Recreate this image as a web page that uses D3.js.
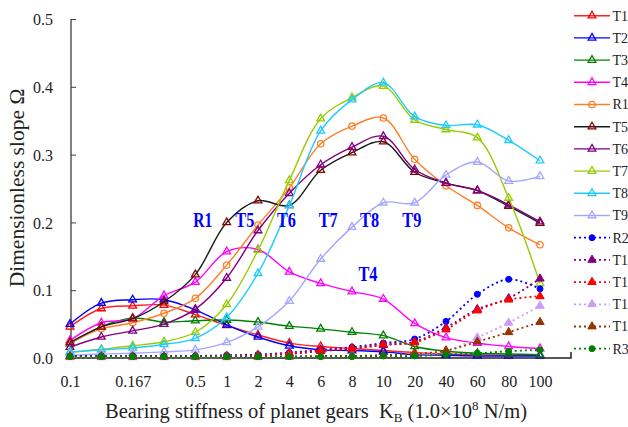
<!DOCTYPE html>
<html>
<head>
<meta charset="utf-8">
<script src="https://cdn.jsdelivr.net/npm/d3@7"></script>
<style>
  html, body { margin: 0; padding: 0; background: #fff; }
  svg { display: block; }
  text { font-family: "Liberation Serif", "Times New Roman", serif; }
</style>
</head>
<body>
<svg id="chart" width="628" height="427"></svg>
<script>
// Bearing stiffness categories (1.0e8 N/m) and the labels shown under them
const categories = ["0.1", "0.125", "0.167", "0.25", "0.5", "1", "2", "4", "6", "8", "10", "20", "40", "60", "80", "100"];
const tickLabels = ["0.1", "", "0.167", "", "0.5", "1", "2", "4", "6", "8", "10", "20", "40", "60", "80", "100"];
const yTicks = [0.0, 0.1, 0.2, 0.3, 0.4, 0.5];

// Dimensionless slope for each mode
const T1  = [0.046, 0.073, 0.077, 0.078, 0.064, 0.048, 0.034, 0.022, 0.017, 0.014, 0.011, 0.008, 0.006, 0.005, 0.004, 0.004];
const T2  = [0.050, 0.081, 0.086, 0.086, 0.071, 0.049, 0.031, 0.018, 0.012, 0.011, 0.009, 0.005, 0.004, 0.003, 0.003, 0.003];
const T3  = [0.021, 0.046, 0.059, 0.053, 0.055, 0.056, 0.053, 0.047, 0.043, 0.038, 0.033, 0.017, 0.010, 0.007, 0.006, 0.005];
const T4  = [0.026, 0.052, 0.058, 0.092, 0.112, 0.157, 0.160, 0.127, 0.110, 0.098, 0.087, 0.051, 0.030, 0.022, 0.017, 0.014];
const R1  = [0.022, 0.043, 0.052, 0.066, 0.088, 0.137, 0.196, 0.251, 0.316, 0.342, 0.354, 0.293, 0.254, 0.225, 0.192, 0.167];
const T5  = [0.023, 0.046, 0.058, 0.083, 0.123, 0.200, 0.232, 0.225, 0.277, 0.303, 0.319, 0.274, 0.258, 0.247, 0.224, 0.199];
const T6  = [0.016, 0.031, 0.040, 0.050, 0.072, 0.118, 0.188, 0.243, 0.285, 0.311, 0.327, 0.278, 0.258, 0.247, 0.226, 0.201];
const T7  = [0.008, 0.013, 0.018, 0.024, 0.038, 0.079, 0.159, 0.262, 0.353, 0.384, 0.401, 0.351, 0.337, 0.325, 0.236, 0.110];
const T8  = [0.009, 0.012, 0.015, 0.020, 0.029, 0.060, 0.125, 0.225, 0.335, 0.381, 0.406, 0.356, 0.343, 0.344, 0.321, 0.291];
const T9  = [0.004, 0.006, 0.007, 0.009, 0.012, 0.023, 0.046, 0.084, 0.146, 0.193, 0.229, 0.229, 0.270, 0.289, 0.261, 0.268];
const R2  = [0.003, 0.003, 0.003, 0.003, 0.003, 0.004, 0.005, 0.008, 0.012, 0.016, 0.022, 0.028, 0.054, 0.094, 0.116, 0.102];
const T10 = [0.002, 0.002, 0.002, 0.002, 0.002, 0.003, 0.004, 0.006, 0.010, 0.014, 0.019, 0.024, 0.045, 0.072, 0.088, 0.117];
const T11 = [0.002, 0.002, 0.002, 0.002, 0.002, 0.003, 0.004, 0.007, 0.011, 0.014, 0.020, 0.023, 0.042, 0.070, 0.086, 0.091];
const T12 = [0.001, 0.001, 0.001, 0.001, 0.001, 0.001, 0.001, 0.002, 0.002, 0.003, 0.004, 0.006, 0.010, 0.030, 0.052, 0.077];
const T13 = [0.002, 0.002, 0.002, 0.002, 0.002, 0.002, 0.002, 0.002, 0.003, 0.003, 0.004, 0.006, 0.011, 0.024, 0.038, 0.053];
const R3  = [0.002, 0.002, 0.002, 0.002, 0.002, 0.002, 0.002, 0.002, 0.002, 0.002, 0.003, 0.003, 0.005, 0.007, 0.010, 0.012];

// Mode labels written inside the plot: category slot (fractional) and value
const annotations = [
  { text: "R1", slot: 4.24,  value: 0.193 },
  { text: "T5", slot: 5.58,  value: 0.193 },
  { text: "T6", slot: 6.91,  value: 0.193 },
  { text: "T7", slot: 8.24,  value: 0.193 },
  { text: "T8", slot: 9.56,  value: 0.193 },
  { text: "T9", slot: 10.91, value: 0.193 },
  { text: "T4", slot: 9.51,  value: 0.113 }
];

const series = [
  { name: "T1",  values: T1,  line: "#ff2020", marker: "#ff0000", shape: "tri", filled: false, dashed: false },
  { name: "T2",  values: T2,  line: "#0000ff", marker: "#0000ff", shape: "tri", filled: false, dashed: false },
  { name: "T3",  values: T3,  line: "#008000", marker: "#008000", shape: "tri", filled: false, dashed: false },
  { name: "T4",  values: T4,  line: "#ff00ff", marker: "#ff00ff", shape: "tri", filled: false, dashed: false },
  { name: "R1",  values: R1,  line: "#ff7f27", marker: "#ff7f27", shape: "circle", filled: false, dashed: false },
  { name: "T5",  values: T5,  line: "#1a1a1a", marker: "#8b0000", shape: "tri", filled: false, dashed: false },
  { name: "T6",  values: T6,  line: "#800080", marker: "#800080", shape: "tri", filled: false, dashed: false },
  { name: "T7",  values: T7,  line: "#99cc00", marker: "#99cc00", shape: "tri", filled: false, dashed: false },
  { name: "T8",  values: T8,  line: "#1ecbff", marker: "#1ecbff", shape: "tri", filled: false, dashed: false },
  { name: "T9",  values: T9,  line: "#a6a6ff", marker: "#a6a6ff", shape: "tri", filled: false, dashed: false },
  { name: "R2",  values: R2,  line: "#0000ff", marker: "#0000ff", shape: "circle", filled: true, dashed: true },
  { name: "T10", values: T10, line: "#800080", marker: "#800080", shape: "tri", filled: true, dashed: true },
  { name: "T11", values: T11, line: "#ff0000", marker: "#ff0000", shape: "tri", filled: true, dashed: true },
  { name: "T12", values: T12, line: "#cc99ff", marker: "#cc99ff", shape: "tri", filled: true, dashed: true },
  { name: "T13", values: T13, line: "#993300", marker: "#993300", shape: "tri", filled: true, dashed: true },
  { name: "R3",  values: R3,  line: "#008000", marker: "#008000", shape: "circle", filled: true, dashed: true }
];

const svg = d3.select("#chart");

const x = d3.scalePoint().domain(categories).range([70, 540]);
const slotX = d3.scaleLinear().domain([0, categories.length - 1]).range(x.range());
const y = d3.scaleLinear().domain([0, 0.5]).range([358, 19]);

// Axes: grey value axis on the left, black category axis along the bottom
const yAxis = d3.axisRight(y).tickValues(yTicks).tickSize(5).tickFormat(d3.format(".1f"));
const gy = svg.append("g").attr("transform", "translate(71,0)").call(yAxis);
gy.select(".domain").attr("stroke", "#808080").attr("stroke-width", 2).attr("d", "M0,19V358");
gy.selectAll(".tick line").attr("stroke", "#404040").attr("stroke-width", 1);
gy.selectAll(".tick text")
  .attr("x", -18).attr("dy", "0.36em")
  .attr("text-anchor", "end")
  .attr("fill", "#222")
  .style("font-size", "16px")
  .style("font-family", "'Liberation Serif', serif");

const xAxis = d3.axisBottom(x).tickSize(0).tickFormat((d, i) => tickLabels[i]);
const gx = svg.append("g").attr("transform", "translate(0,358)").call(xAxis);
gx.select(".domain").attr("stroke", "#222").attr("stroke-width", 1.5).attr("d", "M71,0H571V-6");
gx.selectAll(".tick text")
  .attr("y", 18).attr("dy", "0.71em")
  .attr("fill", "#222")
  .style("font-size", "16px")
  .style("font-family", "'Liberation Serif', serif");

// Curves
const line = d3.line()
  .x((d, i) => x(categories[i]))
  .y(d => y(d))
  .curve(d3.curveCatmullRom.alpha(0.5));

const triangle = d3.symbol().type(d3.symbolTriangle);

function drawMarker(g, s, cx, cy) {
  if (s.shape === "circle") {
    g.append("circle")
      .attr("cx", cx).attr("cy", cy)
      .attr("r", s.filled ? 3 : 3.2)
      .attr("fill", s.filled ? s.marker : "none")
      .attr("stroke", s.marker)
      .attr("stroke-width", s.filled ? 1 : 1.3);
  } else {
    g.append("path")
      .attr("d", triangle.size(s.filled ? 30 : 26)())
      .attr("transform", `translate(${cx},${cy})`)
      .attr("fill", s.filled ? s.marker : "none")
      .attr("stroke", s.marker)
      .attr("stroke-width", s.filled ? 1 : 1.3);
  }
}

const plot = svg.append("g");
series.forEach(s => {
  const g = plot.append("g");
  g.append("path")
    .attr("d", line(s.values))
    .attr("fill", "none")
    .attr("stroke", s.line)
    .attr("stroke-width", s.dashed ? 1.8 : 1.4)
    .attr("stroke-dasharray", s.dashed ? "2,3" : null);
  s.values.forEach((v, i) => drawMarker(g, s, x(categories[i]), y(v)));
});

// Mode labels
svg.append("g").selectAll("text")
  .data(annotations)
  .join("text")
  .attr("x", d => slotX(d.slot))
  .attr("y", d => y(d.value))
  .attr("text-anchor", "middle")
  .attr("fill", "#0000ff")
  .attr("font-weight", "bold")
  .attr("textLength", 19)
  .attr("lengthAdjust", "spacingAndGlyphs")
  .style("font-size", "21px")
  .text(d => d.text);

// Legend
const legend = svg.append("g");
series.forEach((s, i) => {
  const cy = 15.7 + i * 22.2;
  const g = legend.append("g");
  g.append("line")
    .attr("x1", 574).attr("x2", 610)
    .attr("y1", cy).attr("y2", cy)
    .attr("stroke", s.line)
    .attr("stroke-width", s.dashed ? 1.8 : 1.4)
    .attr("stroke-dasharray", s.dashed ? "2,3" : null);
  drawMarker(g, s, 592, cy);
  g.append("text")
    .attr("x", 612.5).attr("y", cy)
    .attr("dy", "0.35em")
    .attr("fill", "#222")
    .style("font-size", "14px")
    .text(s.name);
});

// Axis titles
svg.append("text")
  .attr("transform", "translate(24,188) rotate(-90)")
  .attr("text-anchor", "middle")
  .attr("fill", "#222")
  .style("font-size", "21.5px")
  .text("Dimensionless slope Ω");

const xt = svg.append("text")
  .attr("x", 316).attr("y", 418)
  .attr("text-anchor", "middle")
  .attr("fill", "#222")
  .style("font-size", "20.5px");
xt.append("tspan").text("Bearing stiffness of planet gears\u00a0\u00a0K");
xt.append("tspan").attr("dy", 4).style("font-size", "13px").text("B");
xt.append("tspan").attr("dy", -4).text(" (1.0×10");
xt.append("tspan").attr("dy", -8).style("font-size", "13px").text("8");
xt.append("tspan").attr("dy", 8).text(" N/m)");
</script>
</body>
</html>
